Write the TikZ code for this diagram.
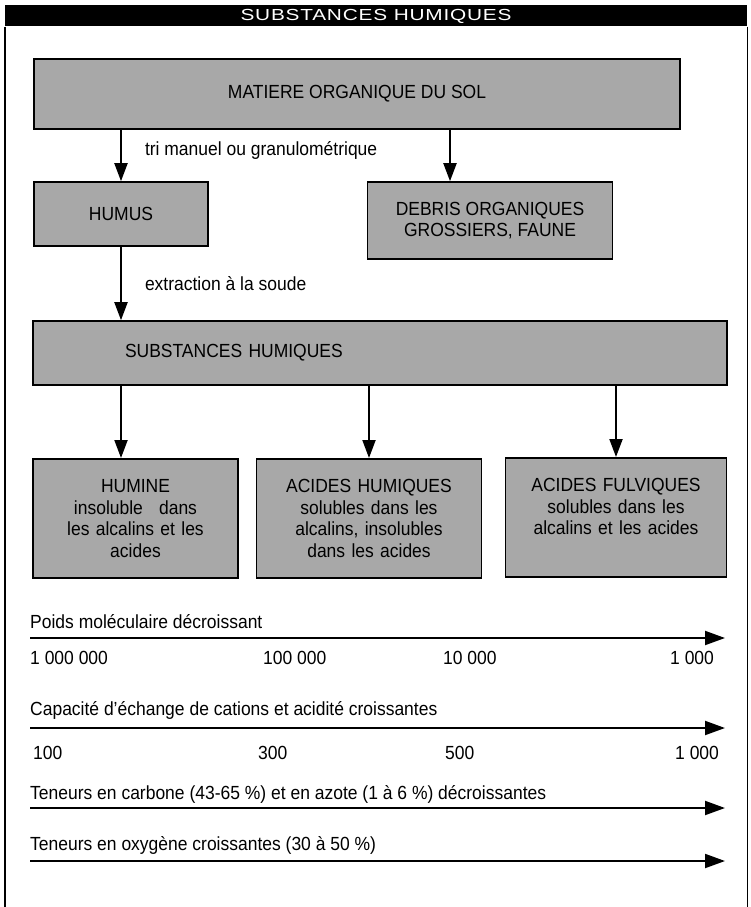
\documentclass[tikz,border=0pt]{standalone}
\usepackage{fontspec}
\setmainfont{Liberation Sans}[FakeStretch=0.92]
\newfontfamily\bandeaufont{Liberation Sans}[FakeStretch=1.3,LetterSpace=5]
\usepackage{tikz}
\usetikzlibrary{arrows.meta}
\colorlet{fond}{black!34}
\tikzset{
  % node options
  boite/.style={rectangle,draw,fill=fond,line width=1.6pt,inner sep=0pt,align=center,font=\fontsize{19}{21.5}\selectfont},
  boiteHaut/.style={boite,anchor=north,text height=34pt,text depth=85pt},
  bandeau/.style={rectangle,fill=black,text=white,inner sep=0pt,font=\bandeaufont\fontsize{16}{18}\selectfont},
  legende/.style={anchor=base west,inner sep=0pt,font=\fontsize{19}{21.5}\selectfont},
  % path options
  filiere/.style={-{Triangle[width=13pt,length=18pt]},line width=2pt},
  filiere label/.style={right=23pt,inner sep=0pt,font=\fontsize{19}{21.5}\selectfont},
  gradient/.style={-{Triangle[width=14pt,length=20pt]},line width=2pt},
  cadre/.style={line width=1.4pt},
}

\begin{document}
\begin{tikzpicture}[x=1pt,y=-1pt]
  \useasboundingbox (0,0) rectangle (751,907);
  % frame and title
  \node[bandeau,minimum width=742pt,minimum height=21pt] (titre) at (376,16) {SUBSTANCES HUMIQUES};
  \draw[cadre] (titre.south west) -- (titre.south west |- 0,907);
  \draw[cadre] (titre.south east) -- (titre.south east |- 0,907);

  % boxes
  \node[boite,minimum width=646pt,minimum height=70pt] (matiere) at (357,94) {MATIERE ORGANIQUE DU SOL};
  \node[boite,minimum width=174pt,minimum height=64pt] (humus) at (121,214) {HUMUS};
  \node[boite,minimum width=245pt,minimum height=77pt] (debris) at (490,220.5) {DEBRIS ORGANIQUES\\GROSSIERS, FAUNE};
  \node[boite,minimum width=694pt,minimum height=64pt,text width=510pt,align=left] (subst) at (380,353) {SUBSTANCES HUMIQUES};
  \node[boiteHaut,minimum width=205pt,text width=200pt] (humine) at (135.5,458) {HUMINE\\insoluble\hspace{0.85em}dans\\les alcalins et les\\acides};
  \node[boiteHaut,minimum width=225pt,text width=215pt] (ahum) at (369,458) {ACIDES HUMIQUES\\solubles dans les\\alcalins, insolubles\\dans les acides};
  \node[boiteHaut,minimum width=221pt,text width=210pt] (afulv) at (616,457) {ACIDES FULVIQUES\\solubles dans les\\alcalins et les acides};

  % connectors
  \coordinate (debrisIn) at ([xshift=-40pt]debris.north);
  \draw[filiere] (matiere.south -| humus.north) -- node[filiere label,pos=0.4] {tri manuel ou granulométrique} (humus.north);
  \draw[filiere] (debrisIn |- matiere.south) -- (debrisIn);
  \draw[filiere] (humus.south) -- node[filiere label] {extraction à la soude} (humus.south |- subst.north);
  \draw[filiere] (humus.south |- subst.south) -- (humus.south |- humine.north);
  \draw[filiere] (subst.south -| ahum.north) -- (ahum.north);
  \draw[filiere] (subst.south -| afulv.north) -- (afulv.north);

  % scales
  \node[legende] (poids) at (30,628) {Poids moléculaire décroissant};
  \coordinate (poidsG) at (30,638);
  \coordinate (poidsD) at (725,638);
  \draw[gradient] (poidsG) -- (poidsD);
  \node[legende] (pm1) at (30,664) {1 000 000};
  \node[legende] (pm2) at (263,664) {100 000};
  \node[legende] (pm3) at (443,664) {10 000};
  \node[legende] (pm4) at (670,664) {1 000};

  \node[legende] (cec) at (30,715) {Capacité d'échange de cations et acidité croissantes};
  \coordinate (cecG) at (30,728);
  \coordinate (cecD) at (725,728);
  \draw[gradient] (cecG) -- (cecD);
  \node[legende] (cec1) at (33,759) {100};
  \node[legende] (cec2) at (258,759) {300};
  \node[legende] (cec3) at (445,759) {500};
  \node[legende] (cec4) at (675,759) {1 000};

  \node[legende] (carbone) at (30,799) {Teneurs en carbone (43-65 \%) et en azote (1 à 6 \%) décroissantes};
  \coordinate (carboneG) at (30,808);
  \coordinate (carboneD) at (725,808);
  \draw[gradient] (carboneG) -- (carboneD);

  \node[legende] (oxygene) at (30,850) {Teneurs en oxygène croissantes (30 à 50 \%)};
  \coordinate (oxygeneG) at (30,861);
  \coordinate (oxygeneD) at (725,861);
  \draw[gradient] (oxygeneG) -- (oxygeneD);
\end{tikzpicture}
\end{document}
